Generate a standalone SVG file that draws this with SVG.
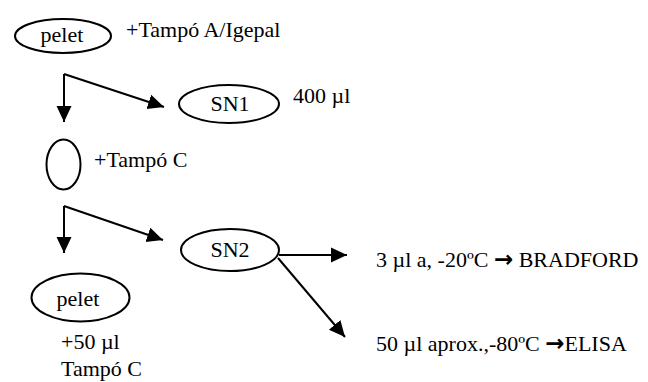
<svg xmlns="http://www.w3.org/2000/svg" width="648" height="382" viewBox="0 0 648 382">
  <style>
    .node { fill: #fff; stroke: #000; stroke-width: 2; }
    .lbl { font-family: "Liberation Serif", "Times New Roman", serif; font-size: 22px; fill: #000; }
    .mid { text-anchor: middle; }
    .arw { font-family: "DejaVu Sans", sans-serif; font-weight: bold; font-size: 23px; }
    .edge { fill: none; stroke: #000; stroke-width: 2; marker-end: url(#head); }
  </style>
  <defs>
    <marker id="head" markerUnits="userSpaceOnUse" markerWidth="17" markerHeight="17" viewBox="0 0 17 17" refX="16" refY="8.5" orient="auto">
      <path d="M0,1 L16,8.5 L0,16 Z" fill="#000"/>
    </marker>
  </defs>

  <!-- first pellet with buffer A -->
  <g id="pelet1">
    <ellipse class="node" cx="63" cy="36" rx="48" ry="17"/>
    <text class="lbl mid" x="62" y="42">pelet</text>
    <text class="lbl" x="126" y="37">+Tampó A/Igepal</text>
  </g>

  <!-- first supernatant -->
  <g id="sn1">
    <ellipse class="node" cx="229" cy="104" rx="50" ry="19"/>
    <text class="lbl mid" x="230" y="111">SN1</text>
    <text class="lbl" x="293" y="103">400 µl</text>
  </g>

  <!-- resuspended pellet with buffer C -->
  <g id="pelet-c">
    <ellipse class="node" cx="63.5" cy="164.5" rx="17" ry="25"/>
    <text class="lbl" x="94" y="167">+Tampó C</text>
  </g>

  <!-- second supernatant -->
  <g id="sn2">
    <ellipse class="node" cx="230" cy="250" rx="49" ry="21"/>
    <text class="lbl mid" x="230" y="257">SN2</text>
  </g>

  <!-- final pellet -->
  <g id="pelet2">
    <ellipse class="node" cx="80.5" cy="297.5" rx="49" ry="24"/>
    <text class="lbl mid" x="78" y="306">pelet</text>
    <text class="lbl" x="61" y="349">+50 µl</text>
    <text class="lbl" x="61" y="376">Tampó C</text>
  </g>

  <!-- aliquot destinations -->
  <g id="bradford">
    <text class="lbl" x="376" y="267">3 µl a, -20ºC <tspan class="arw">→</tspan> BRADFORD</text>
  </g>
  <g id="elisa">
    <text class="lbl" x="376" y="351">50 µl aprox.,-80ºC <tspan class="arw">→</tspan>ELISA</text>
  </g>

  <g id="connectors">
    <path class="edge" d="M64,74 L64,122"/>
    <path class="edge" d="M64,74 L164,107"/>
    <path class="edge" d="M64,206 L64,253"/>
    <path class="edge" d="M64,206 L163,240"/>
    <path class="edge" d="M279,255 L347,255"/>
    <path class="edge" d="M278,258 L345,337"/>
  </g>
</svg>
